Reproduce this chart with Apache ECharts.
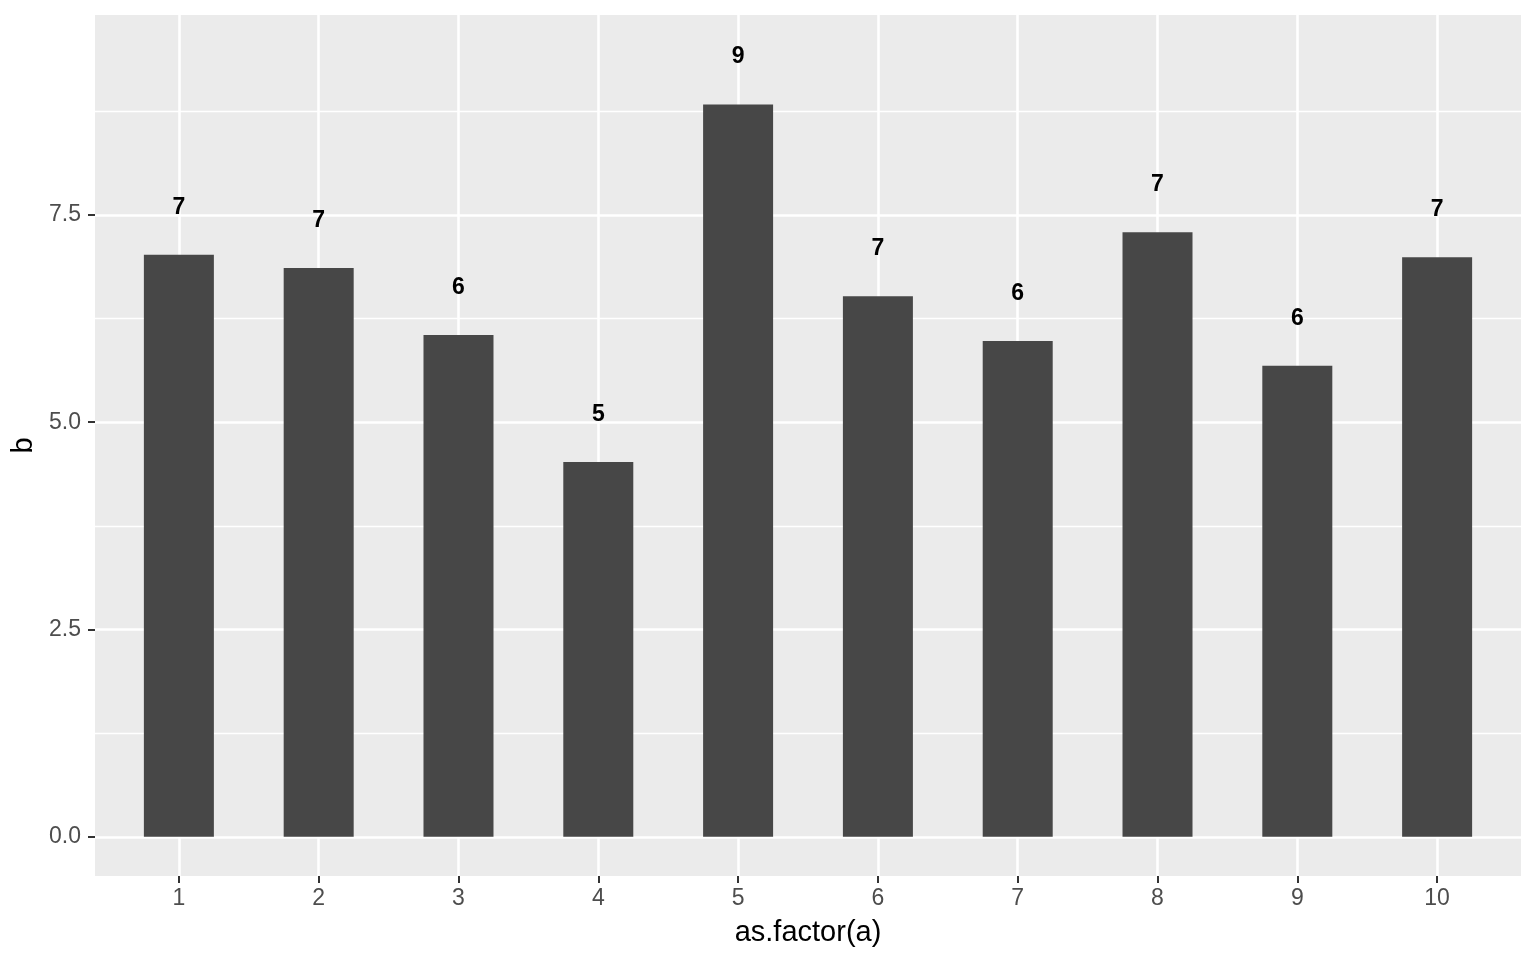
<!DOCTYPE html>
<html>
<head>
<meta charset="utf-8">
<script src="https://cdn.jsdelivr.net/npm/echarts@6/dist/echarts.min.js"></script>
<style>
html,body{margin:0;padding:0;background:#fff;}
#chart{width:1536px;height:960px;}
</style>
</head>
<body>
<div id="chart"></div>
<script>
// Data
const categories = [1, 2, 3, 4, 5, 6, 7, 8, 9, 10];
const values = [7.02, 6.86, 6.05, 4.52, 8.83, 6.52, 5.98, 7.29, 5.68, 6.99];
const yTicks = [0, 2.5, 5, 7.5];
const yMinorTicks = [1.25, 3.75, 6.25, 8.75];
const xTitle = 'as.factor(a)';
const yTitle = 'b';

const FONT = '"Liberation Sans", Arial, Helvetica, sans-serif';
const chart = echarts.init(document.getElementById('chart'), null, {renderer: 'canvas'});

const barData = categories.map((c, i) => [c, values[i]]);

chart.setOption({
  animation: false,
  backgroundColor: '#ffffff',
  grid: {
    left: 95, right: 15, top: 15, bottom: 84,
    show: true, backgroundColor: '#EBEBEB', borderWidth: 0
  },
  xAxis: {
    type: 'value',
    min: 0.4, max: 10.6,
    name: xTitle,
    nameLocation: 'middle',
    nameGap: 42,
    nameTextStyle: {fontFamily: FONT, fontSize: 29, color: '#000'},
    axisLine: {show: false, onZero: false},
    axisTick: {show: true, customValues: categories, length: 7, lineStyle: {color: '#333333', width: 2}},
    axisLabel: {show: true, customValues: categories, margin: 11, fontFamily: FONT, fontSize: 23, color: '#4D4D4D'},
    splitLine: {show: true, lineStyle: {color: '#ffffff', width: 2.6}}
  },
  yAxis: [{
    type: 'value',
    min: -0.472, max: 9.91,
    name: yTitle,
    nameLocation: 'middle',
    nameGap: 54,
    nameRotate: 90,
    nameTextStyle: {fontFamily: FONT, fontSize: 29, color: '#000'},
    axisLine: {show: false, onZero: false},
    axisTick: {show: true, customValues: yTicks, length: 7, lineStyle: {color: '#333333', width: 2}},
    axisLabel: {show: true, customValues: yTicks, margin: 14, fontFamily: FONT, fontSize: 23, color: '#4D4D4D',
      formatter: v => Number(v).toFixed(1)},
    splitLine: {show: true, lineStyle: {color: '#ffffff', width: 2.6}}
  }, {
    type: 'value',
    min: -0.472, max: 9.91,
    position: 'left',
    axisLine: {show: false, onZero: false},
    axisTick: {show: false, customValues: yMinorTicks},
    axisLabel: {show: false, customValues: yMinorTicks},
    splitLine: {show: true, lineStyle: {color: '#ffffff', width: 1.3}}
  }],
  series: [{
    type: 'bar',
    xAxisIndex: 0,
    yAxisIndex: 0,
    data: barData,
    barWidth: 70,
    itemStyle: {color: '#474747'},
    label: {
      show: true,
      position: 'top',
      distance: 36,
      fontFamily: FONT,
      fontSize: 23,
      fontWeight: 'bold',
      color: '#000',
      formatter: p => String(Math.round(p.value[1]))
    }
  }]
});
</script>
</body>
</html>
